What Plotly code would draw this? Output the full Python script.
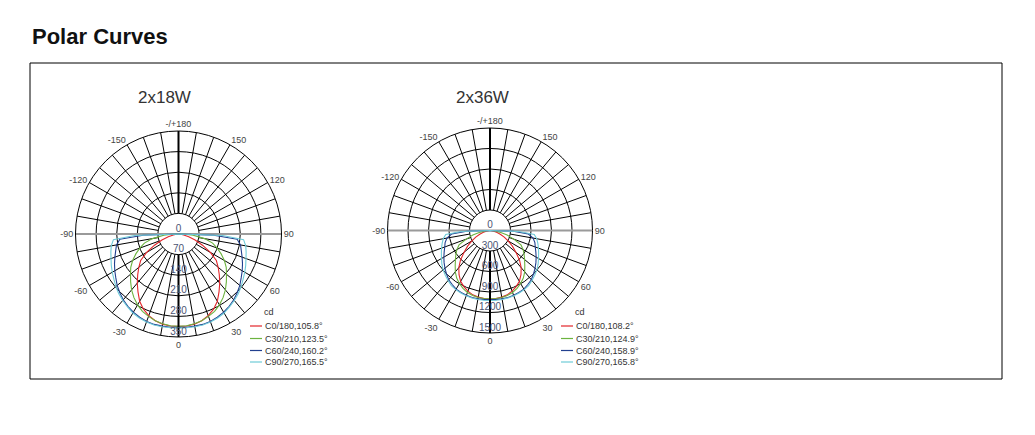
import plotly.graph_objects as go

# ---------------- data ----------------
gamma = [0, 5, 10, 15, 20, 25, 30, 35, 40, 45, 50, 55, 60, 65, 70, 75, 80, 85, 88, 90]

# 2x18W (cd)
c0_18 = [314, 314, 311, 305, 295, 282, 264, 240, 218, 196, 176, 157, 125, 90, 60, 36, 18, 7, 3, 0]
c30_18 = [314, 313, 310, 305, 298, 290, 278, 264, 248, 230, 213, 198, 180, 160, 140, 120, 90, 50, 22, 0]
c60_18 = [317, 318, 318, 318, 316, 312, 307, 300, 292, 282, 272, 260, 250, 240, 230, 221, 214, 200, 120, 0]
c90_18 = [320, 320, 320, 320, 318, 315, 310, 302, 295, 287, 278, 268, 260, 252, 244, 238, 232, 222, 150, 0]

# 2x36W (cd)
c0_36 = [1000, 1000, 990, 975, 945, 905, 860, 790, 710, 610, 495, 400, 310, 230, 160, 100, 55, 20, 8, 0]
c30_36 = [1000, 1000, 995, 985, 965, 935, 895, 850, 790, 720, 660, 610, 560, 500, 370, 260, 160, 70, 25, 0]
c60_36 = [1010, 1015, 1015, 1015, 1010, 1000, 990, 965, 940, 900, 860, 820, 780, 740, 705, 680, 640, 560, 340, 0]
c90_36 = [1025, 1025, 1025, 1022, 1018, 1010, 1000, 985, 955, 925, 895, 860, 820, 785, 755, 725, 695, 650, 420, 0]

names_18 = ["C0/180,105.8°", "C30/210,123.5°", "C60/240,160.2°", "C90/270,165.5°"]
names_36 = ["C0/180,108.2°", "C30/210,124.9°", "C60/240,158.9°", "C90/270,165.8°"]
colors = ["#e3262b", "#6cb33f", "#22408f", "#6fcbd8"]

ticks_18 = [0, 70, 140, 210, 280, 350]
ticks_36 = [0, 300, 600, 900, 1200, 1500]

ang_vals = [0, 30, 60, 90, 120, 150, 180, 210, 240, 270, 300, 330]
ang_text = ["0", "30", "60", "90", "120", "150", "-/+180", "-150", "-120", "-90", "-60", "-30"]

FONT = "Liberation Sans, Arial, sans-serif"

fig = go.Figure()


def mirror(vals):
    th = [-g for g in reversed(gamma)] + gamma[1:]
    rr = list(reversed(vals)) + vals[1:]
    return th, rr


def add_polar(sub, series, ticks):
    rmax = ticks[-1]
    r1 = ticks[1]
    # spokes every 10 deg from first ring to outer
    th, rr = [], []
    for a in range(0, 360, 10):
        if a in (0, 90, 180, 270):
            continue
        th += [a, a, None]
        rr += [r1, rmax, None]
    fig.add_trace(go.Scatterpolar(r=rr, theta=th, mode="lines", subplot=sub,
                                  line=dict(color="black", width=1), showlegend=False,
                                  hoverinfo="skip"))
    # horizontal gray axis
    fig.add_trace(go.Scatterpolar(r=[rmax, 0, rmax], theta=[-90, 90, 90], mode="lines", subplot=sub,
                                  line=dict(color="#9a9a9a", width=2), showlegend=False,
                                  hoverinfo="skip"))
    for vals, col in zip(series, colors):
        t, r = mirror(vals)
        fig.add_trace(go.Scatterpolar(r=r, theta=t, mode="lines", subplot=sub,
                                      line=dict(color=col, width=1.1), showlegend=False))
    # vertical black axis
    fig.add_trace(go.Scatterpolar(r=[r1, rmax, None, r1, rmax], theta=[0, 0, None, 180, 180],
                                  mode="lines", subplot=sub,
                                  line=dict(color="black", width=2), showlegend=False,
                                  hoverinfo="skip"))
    # radial tick labels
    fig.add_trace(go.Scatterpolar(r=ticks, theta=[0] * len(ticks), mode="text", subplot=sub,
                                  text=[str(v) for v in ticks], textposition="top center",
                                  marker=dict(size=1),
                                  textfont=dict(family=FONT, size=10, color="#4b5473"),
                                  showlegend=False, cliponaxis=False, hoverinfo="skip"))


add_polar("polar", [c0_18, c30_18, c60_18, c90_18], ticks_18)
add_polar("polar2", [c0_36, c30_36, c60_36, c90_36], ticks_36)

W, H = 1035, 435
OFF = 8  # page body margin


def px(x):
    return (x - OFF) / W


def py(y):
    return 1 - (y - OFF) / H


def polar_layout(cx, cy, rad, ticks):
    return dict(
        domain=dict(x=[px(cx - rad), px(cx + rad)], y=[py(cy + rad), py(cy - rad)]),
        bgcolor="white",
        radialaxis=dict(range=[0, ticks[-1]], tickvals=ticks[1:], showticklabels=False,
                        showline=False, ticks="", gridcolor="black", gridwidth=1),
        angularaxis=dict(rotation=270, direction="counterclockwise", tickmode="array",
                         tickvals=ang_vals, ticktext=ang_text, showgrid=False,
                         showline=True, linecolor="black", linewidth=1, ticks="",
                         tickfont=dict(family=FONT, size=9, color="#444444")),
    )


fig.update_layout(
    width=W, height=H,
    margin=dict(l=0, r=0, t=0, b=0),
    paper_bgcolor="white",
    plot_bgcolor="white",
    showlegend=False,
    polar=polar_layout(178.5, 234, 103, ticks_18),
    polar2=polar_layout(490, 230.5, 102.5, ticks_36),
)

annotations = [
    dict(x=px(30), y=py(37), xref="paper", yref="paper", xanchor="left", yanchor="middle",
         text="<b>Polar Curves</b>", showarrow=False,
         font=dict(family=FONT, size=22, color="#111111")),
    dict(x=px(164), y=py(97), xref="paper", yref="paper", xanchor="center", yanchor="middle",
         text="2x18W", showarrow=False, font=dict(family=FONT, size=17, color="#333333")),
    dict(x=px(482), y=py(97), xref="paper", yref="paper", xanchor="center", yanchor="middle",
         text="2x36W", showarrow=False, font=dict(family=FONT, size=17, color="#333333")),
]
shapes = [dict(type="rect", xref="paper", yref="paper", x0=px(30), x1=px(1002), y0=py(379), y1=py(63),
               line=dict(color="black", width=1))]

leg_rows = [326, 338.5, 350.5, 362]
for lx, cdx, names in [(250, 269, names_18), (561, 580, names_36)]:
    annotations.append(dict(x=px(cdx), y=py(312), xref="paper", yref="paper", xanchor="center",
                            yanchor="middle", text="cd", showarrow=False,
                            font=dict(family=FONT, size=9, color="#333333")))
    for yy, nm, col in zip(leg_rows, names, colors):
        shapes.append(dict(type="line", xref="paper", yref="paper", x0=px(lx), x1=px(lx + 12),
                           y0=py(yy), y1=py(yy), line=dict(color=col, width=1.2)))
        annotations.append(dict(x=px(lx + 13), y=py(yy), xref="paper", yref="paper", xanchor="left",
                                yanchor="middle", text=nm, showarrow=False,
                                font=dict(family=FONT, size=9, color="#333333")))

fig.update_layout(annotations=annotations, shapes=shapes)
fig.write_html("out.html")
